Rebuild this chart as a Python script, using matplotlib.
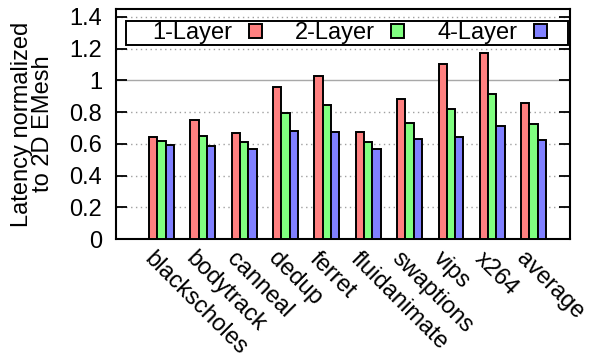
import numpy as np
import matplotlib
matplotlib.use("Agg")
import matplotlib.pyplot as plt
from matplotlib.patches import Patch, Rectangle

plt.rcParams['font.family'] = ['Liberation Sans', 'DejaVu Sans']

benchmarks = ["blackscholes", "bodytrack", "canneal", "dedup", "ferret",
              "fluidanimate", "swaptions", "vips", "x264", "average"]
layer1 = [0.645, 0.753, 0.669, 0.957, 1.030, 0.675, 0.883, 1.104, 1.171, 0.856]
layer2 = [0.616, 0.650, 0.610, 0.793, 0.847, 0.612, 0.732, 0.820, 0.915, 0.726]
layer4 = [0.593, 0.589, 0.568, 0.679, 0.675, 0.568, 0.629, 0.644, 0.715, 0.627]
series_names = ["1-Layer", "2-Layer", "4-Layer"]
yticks = [0, 0.2, 0.4, 0.6, 0.8, 1.0, 1.2, 1.4]
ytick_labels = ["0", "0.2", "0.4", "0.6", "0.8", "1", "1.2", "1.4"]

colors = ["#ff8080", "#80ff80", "#8080ff"]
FS = 17

fig = plt.figure(figsize=(5.93, 3.60), dpi=100)
ax = fig.add_axes([116 / 593, 1 - 239 / 360, (570 - 116) / 593, (239 - 9) / 360])

x = np.arange(len(benchmarks))
w = 0.2
for k, (vals, c) in enumerate(zip([layer1, layer2, layer4], colors)):
    ax.bar(x + (k - 1) * w, vals, width=w, color=c, edgecolor="black",
           linewidth=1.4, zorder=3)

ax.set_xlim(-1.1, 9.88)
ax.set_ylim(0, 1.45)
ax.set_yticks(yticks)
ax.set_yticklabels(ytick_labels, fontsize=FS)
ax.tick_params(axis="y", direction="in", length=8, width=1.3, right=True, pad=10)
ax.set_xticks(x)
ax.set_xticklabels([])
ax.tick_params(axis="x", length=0)
for i, name in enumerate(benchmarks):
    ax.text(i - 0.15, -0.055, name, rotation=-45, rotation_mode="anchor",
            ha="left", va="top", fontsize=FS, transform=ax.transData,
            clip_on=False)

# horizontal guide lines: solid at 1, dotted elsewhere
for v in yticks[1:]:
    if v == 1.0:
        ax.axhline(v, color="#a8a8a8", linestyle="-", linewidth=1.0, zorder=1)
    else:
        ax.axhline(v, color="#a0a0a0", linestyle=(0, (1.0, 2.5)),
                   linewidth=1.0, zorder=1)

for s in ax.spines.values():
    s.set_linewidth(1.5)

ax.set_ylabel("Latency normalized\nto 2D EMesh", fontsize=FS, labelpad=11,
              linespacing=0.95)

# legend: boxed strip near the top of the plot area
x0, x1 = (126 - 116) / 454, (568 - 116) / 454
y0, y1 = (239 - 45) / 230, (239 - 21) / 230
frame = Rectangle((x0, y0), x1 - x0, y1 - y0, transform=ax.transAxes,
                  facecolor="white", edgecolor="black", linewidth=1.4,
                  zorder=4)
ax.add_patch(frame)

handles = [Patch(facecolor=c, edgecolor="black", linewidth=1.4) for c in colors]
leg = ax.legend(handles, series_names, ncol=3, markerfirst=False,
                loc="center", bbox_to_anchor=(0.514, (y0 + y1) / 2),
                fontsize=FS, frameon=False,
                handlelength=0.55, handleheight=0.55, handletextpad=0.7,
                borderpad=0.0, borderaxespad=0.0, columnspacing=1.4)
leg.set_zorder(5)

fig.savefig("out.png", dpi=100)
